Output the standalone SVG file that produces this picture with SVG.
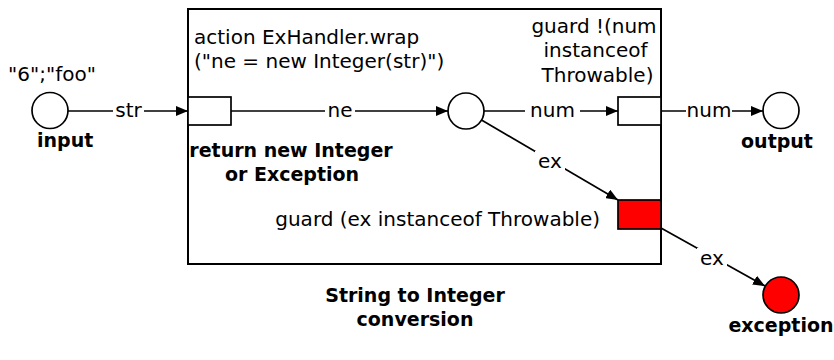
<svg xmlns="http://www.w3.org/2000/svg" width="834" height="360" viewBox="0 0 834 360">
<defs>
<marker id="arr" viewBox="0 0 12 10" refX="12" refY="5" markerWidth="12" markerHeight="10" markerUnits="userSpaceOnUse" orient="auto">
<path d="M0,0 L12,5 L0,10 Z" fill="#000"/>
</marker>
</defs>
<style>
text{font-family:"DejaVu Sans","Liberation Sans",sans-serif;font-size:20px;fill:#000}
.b{font-weight:bold;font-size:19px}
.m{text-anchor:middle}
.e{text-anchor:end}
.shape{fill:#fff;stroke:#000;stroke-width:1.7}
.red{fill:#ff0000;stroke:#000;stroke-width:1.7}
.edge{fill:none;stroke:#000;stroke-width:1.7;marker-end:url(#arr)}
.lbg{fill:#fff}
</style>
<rect width="834" height="360" fill="#fff"/>

<g id="subnet">
<rect x="188" y="9" width="473" height="255" fill="none" stroke="#000" stroke-width="2"/>
<text class="b m" x="415" y="302">String to Integer</text>
<text class="b m" x="415" y="326">conversion</text>
</g>

<g id="connectors">
<line class="edge" x1="68" y1="111" x2="188" y2="111"/>
<line class="edge" x1="231" y1="111" x2="448" y2="111"/>
<line class="edge" x1="484" y1="111" x2="618" y2="111"/>
<line class="edge" x1="661" y1="111" x2="763" y2="111"/>
<line class="edge" x1="481.5" y1="120" x2="618" y2="200"/>
<line class="edge" x1="661" y1="228" x2="765" y2="286"/>
<rect class="lbg" x="113" y="100" width="31" height="22"/>
<text class="m" x="128.5" y="117">str</text>
<rect class="lbg" x="325" y="100" width="30" height="22"/>
<text class="m" x="340" y="117">ne</text>
<rect class="lbg" x="525" y="100" width="55" height="22"/>
<text class="m" x="552.5" y="117">num</text>
<rect class="lbg" x="686" y="100" width="46" height="22"/>
<text class="m" x="709" y="117">num</text>
<rect class="lbg" x="535" y="151" width="30" height="22"/>
<text class="m" x="550" y="168">ex</text>
<rect class="lbg" x="697" y="248" width="30" height="22"/>
<text class="m" x="712" y="265">ex</text>
</g>

<g id="input">
<circle class="shape" cx="50" cy="110.5" r="18"/>
<text class="m" x="52" y="81">"6";"foo"</text>
<text class="b" x="37" y="147">input</text>
</g>

<g id="wrap">
<rect class="shape" x="188" y="97" width="43" height="28"/>
<text x="194" y="44">action ExHandler.wrap</text>
<text x="194" y="68">("ne = new Integer(str)")</text>
<text class="b m" x="291" y="157">return new Integer</text>
<text class="b m" x="292" y="181">or Exception</text>
</g>

<g id="mid">
<circle class="shape" cx="466" cy="111" r="18"/>
</g>

<g id="guardNum">
<rect class="shape" x="618" y="97" width="43" height="28"/>
<text class="m" x="594" y="33">guard !(num</text>
<text class="m" x="595.5" y="57">instanceof</text>
<text class="m" x="597.5" y="82">Throwable)</text>
</g>

<g id="guardEx">
<rect class="red" x="618" y="200" width="43" height="29"/>
<text class="e" x="600" y="226">guard (ex instanceof Throwable)</text>
</g>

<g id="output">
<circle class="shape" cx="781" cy="110.5" r="18"/>
<text class="b m" x="777" y="148">output</text>
</g>

<g id="exception">
<circle class="red" cx="781" cy="295" r="18"/>
<text class="b m" x="781" y="332">exception</text>
</g>
</svg>
